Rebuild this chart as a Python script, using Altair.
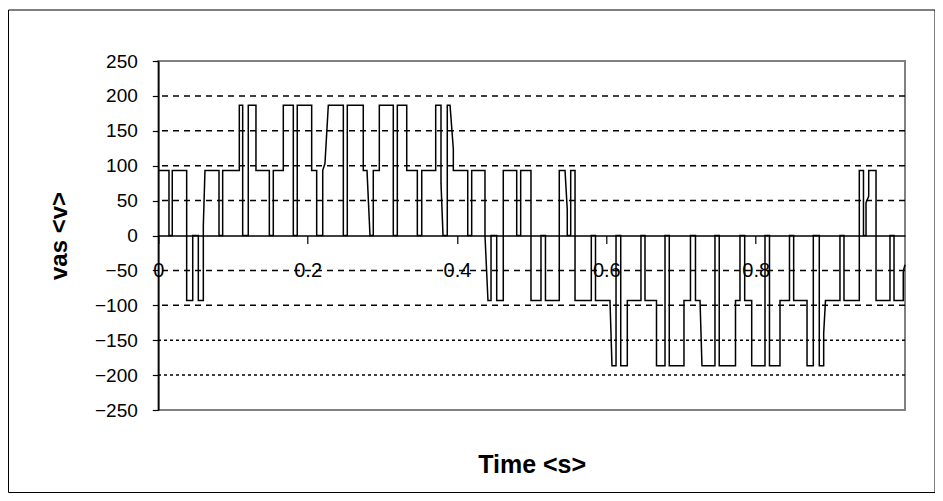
import altair as alt
import pandas as pd

A = 93.3
B = 186.7

time_s = [0, 0.0143, 0.0143, 0.0187, 0.0187, 0.0380, 0.0380, 0.0461, 0.0461, 0.0536, 0.0536,
          0.0603, 0.0603, 0.0625, 0.0813, 0.0813, 0.0862, 0.0862, 0.1085, 0.1085, 0.1130, 0.1130,
          0.1205, 0.1205, 0.1308, 0.1308, 0.1487, 0.1487, 0.1540, 0.1540, 0.1674, 0.1674,
          0.1808, 0.1808, 0.1861, 0.1861, 0.2054, 0.2054, 0.2121, 0.2121, 0.2202, 0.2202, 0.2232, 0.2277,
          0.2478, 0.2478, 0.2531, 0.2531, 0.2745, 0.2745, 0.2795, 0.2835, 0.2879, 0.2879,
          0.2960, 0.2960, 0.3147, 0.3147, 0.3201, 0.3201, 0.3327, 0.3327, 0.3469, 0.3469,
          0.3528, 0.3528, 0.3715, 0.3715, 0.3786, 0.3786, 0.3813, 0.3870, 0.3870,
          0.3907, 0.3951, 0.3951, 0.4144, 0.4144, 0.4197, 0.4197, 0.4375, 0.4375, 0.4415,
          0.4456, 0.4456, 0.4532, 0.4532, 0.4620, 0.4620, 0.4800, 0.4800, 0.4853, 0.4853,
          0.4991, 0.4991, 0.5125, 0.5125, 0.5185, 0.5185, 0.5370, 0.5370, 0.5447, 0.5477, 0.5477,
          0.5523, 0.5523, 0.5581, 0.5581, 0.5799, 0.5799, 0.5855, 0.5855, 0.6049, 0.6076,
          0.6130, 0.6130, 0.6193, 0.6193, 0.6281, 0.6281, 0.6464, 0.6464, 0.6518, 0.6518,
          0.6672, 0.6672, 0.6786, 0.6786, 0.6843, 0.6843, 0.7040, 0.7040, 0.7127, 0.7127,
          0.7194, 0.7194, 0.7255, 0.7281, 0.7455, 0.7455, 0.7512, 0.7512, 0.7730, 0.7730,
          0.7790, 0.7790, 0.7853, 0.7853, 0.7947, 0.7947, 0.8125, 0.8125, 0.8185, 0.8185,
          0.8326, 0.8326, 0.8453, 0.8453, 0.8509, 0.8509, 0.8688, 0.8688, 0.8772, 0.8772,
          0.8852, 0.8852, 0.8911, 0.8911, 0.8935, 0.9129, 0.9129, 0.9183, 0.9183,
          0.9388, 0.9388, 0.9444, 0.9444, 0.9478, 0.9478, 0.9514, 0.9514, 0.9612, 0.9612,
          0.9799, 0.9799, 0.9853, 0.9853, 0.9977, 0.9977, 1.0]

vas_v = [A, A, 0, 0, A, A, -A, -A, 0, 0, -A,
         -A, 14, A, A, 0, 0, A, A, B, B, 0,
         0, B, B, A, A, 0, 0, A, A, B,
         B, 0, 0, B, B, A, A, 0, 0, A, 103, B,
         B, 0, 0, B, B, A, A, 0, 0, A,
         A, B, B, 0, 0, B, B, A, A, 0,
         0, A, A, B, B, 75, 0, 0, B,
         B, 124, A, A, 0, 0, A, A, 0, -A,
         -A, 0, 0, -A, -A, A, A, 0, 0, A,
         A, -A, -A, 0, 0, -A, -A, A, A, 37, 0,
         0, A, A, -A, -A, 0, 0, -A, -A, -B,
         -B, 0, 0, -B, -B, -A, -A, 0, 0, -A,
         -A, -B, -B, 0, 0, -B, -B, -A, -A, 0,
         0, -A, -A, -B, -B, 0, 0, -B, -B, -A,
         -A, 0, 0, -A, -A, -B, -B, 0, 0, -B,
         -B, -A, -A, 0, 0, -A, -A, -B, -B, 0,
         0, -B, -B, -140, -A, -A, 0, 0, -A,
         -A, A, A, 0, 0, 47, 56, A, A, -A,
         -A, 0, 0, -A, -A, -51, -42]

grid_dashed = [200, 150, 100, 50, -50, -100]
grid_dotted = [-150, -200]
x_ticks = [0, 0.2, 0.4, 0.6, 0.8]
y_ticks = [250, 200, 150, 100, 50, 0, -50, -100, -150, -200, -250]

FONT = "Liberation Sans"
W, H = 746.7, 349

df = pd.DataFrame({"t": time_s, "v": vas_v, "i": list(range(len(time_s)))})

x_scale = alt.Scale(domain=[0, 1], nice=False, zero=False)
y_scale = alt.Scale(domain=[-250, 250], nice=False)

x_axis = alt.Axis(values=x_ticks, format="~g", grid=False, domain=True, domainColor="black",
                  domainWidth=1.5, ticks=True, tickColor="black", tickSize=8, tickWidth=1.2,
                  offset=-H / 2, labelFont=FONT, labelFontSize=20, labelColor="black",
                  labelPadding=17, labelFlush=False, labelOverlap=False,
                  title="Time <s>", titleFont=FONT, titleFontSize=25, titleFontWeight="bold",
                  titleColor="black", titleY=237, titleBaseline="alphabetic")
y_axis = alt.Axis(values=y_ticks, grid=False, domain=True, domainColor="black", domainWidth=1.5,
                  ticks=True, tickColor="black", tickSize=6, tickWidth=1.2,
                  labelFont=FONT, labelFontSize=19, labelColor="black", labelPadding=15,
                  labelOverlap=False, labelFlush=False,
                  title="vas <v>", titleFont=FONT, titleFontSize=24, titleFontWeight="bold",
                  titleColor="black", titleAngle=270, titleX=-92, titleY=H / 2,
                  titleAlign="center", titleBaseline="alphabetic")

frame = alt.Chart(pd.DataFrame({"k": [0]})).mark_rect(
    fillOpacity=0, stroke="black", strokeWidth=1
).encode(x=alt.value(-149.8), x2=alt.value(776.7), y=alt.value(-51), y2=alt.value(431.5))

dashed = alt.Chart(pd.DataFrame({"v": grid_dashed})).mark_rule(
    color="black", strokeDash=[6, 5], strokeWidth=1.5
).encode(y=alt.Y("v:Q", scale=y_scale, axis=y_axis))

dotted = alt.Chart(pd.DataFrame({"v": grid_dotted})).mark_rule(
    color="black", strokeDash=[3, 3], strokeWidth=1.5
).encode(y=alt.Y("v:Q", scale=y_scale, axis=y_axis))

line = alt.Chart(df).mark_line(color="black", strokeWidth=1.5).encode(
    x=alt.X("t:Q", scale=x_scale, axis=x_axis),
    y=alt.Y("v:Q", scale=y_scale, axis=y_axis),
    order="i:Q",
)

chart = alt.layer(frame, dashed, dotted, line).properties(
    width=W, height=H,
    autosize=alt.AutoSizeParams(type="none"),
    padding={"left": 150.3, "top": 53, "right": 30, "bottom": 83},
    background="white",
).configure_view(stroke="#808080", strokeWidth=2)

chart.save("out.html", embed_options={"renderer": "svg", "actions": False})
